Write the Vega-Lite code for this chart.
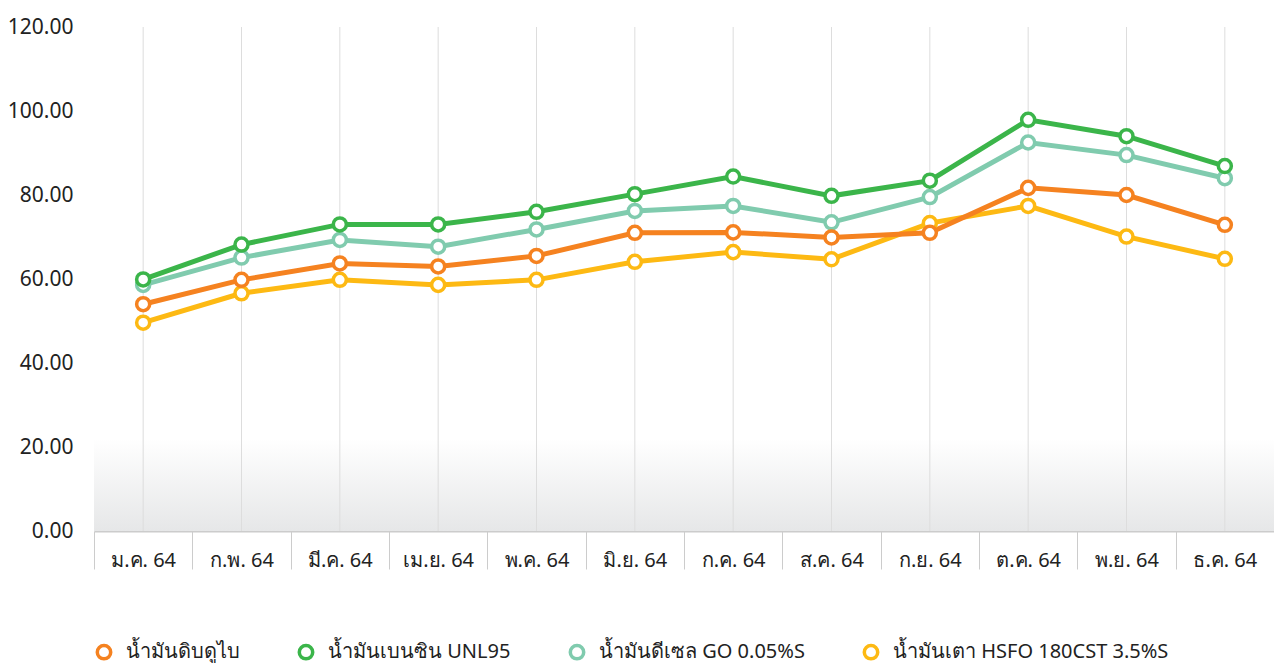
{
  "$schema": "https://vega.github.io/schema/vega-lite/v6.json",
  "width": 1180,
  "height": 504,
  "autosize": "none",
  "padding": {"left": 94, "top": 27, "right": 0, "bottom": 132},
  "background": "white",
  "config": {"view": {"stroke": null}, "font": "Noto Sans"},
  "datasets": {
    "prices": [
      {"m": "ม.ค. 64", "s": "น้ำมันเตา HSFO 180CST 3.5%S", "v": 49.6},
      {"m": "ก.พ. 64", "s": "น้ำมันเตา HSFO 180CST 3.5%S", "v": 56.6},
      {"m": "มี.ค. 64", "s": "น้ำมันเตา HSFO 180CST 3.5%S", "v": 59.8},
      {"m": "เม.ย. 64", "s": "น้ำมันเตา HSFO 180CST 3.5%S", "v": 58.6},
      {"m": "พ.ค. 64", "s": "น้ำมันเตา HSFO 180CST 3.5%S", "v": 59.8},
      {"m": "มิ.ย. 64", "s": "น้ำมันเตา HSFO 180CST 3.5%S", "v": 64.1},
      {"m": "ก.ค. 64", "s": "น้ำมันเตา HSFO 180CST 3.5%S", "v": 66.4},
      {"m": "ส.ค. 64", "s": "น้ำมันเตา HSFO 180CST 3.5%S", "v": 64.7},
      {"m": "ก.ย. 64", "s": "น้ำมันเตา HSFO 180CST 3.5%S", "v": 73.3},
      {"m": "ต.ค. 64", "s": "น้ำมันเตา HSFO 180CST 3.5%S", "v": 77.4},
      {"m": "พ.ย. 64", "s": "น้ำมันเตา HSFO 180CST 3.5%S", "v": 70.1},
      {"m": "ธ.ค. 64", "s": "น้ำมันเตา HSFO 180CST 3.5%S", "v": 64.8},
      {"m": "ม.ค. 64", "s": "น้ำมันดีเซล GO 0.05%S", "v": 58.6},
      {"m": "ก.พ. 64", "s": "น้ำมันดีเซล GO 0.05%S", "v": 65.1},
      {"m": "มี.ค. 64", "s": "น้ำมันดีเซล GO 0.05%S", "v": 69.3},
      {"m": "เม.ย. 64", "s": "น้ำมันดีเซล GO 0.05%S", "v": 67.7},
      {"m": "พ.ค. 64", "s": "น้ำมันดีเซล GO 0.05%S", "v": 71.8},
      {"m": "มิ.ย. 64", "s": "น้ำมันดีเซล GO 0.05%S", "v": 76.2},
      {"m": "ก.ค. 64", "s": "น้ำมันดีเซล GO 0.05%S", "v": 77.4},
      {"m": "ส.ค. 64", "s": "น้ำมันดีเซล GO 0.05%S", "v": 73.5},
      {"m": "ก.ย. 64", "s": "น้ำมันดีเซล GO 0.05%S", "v": 79.5},
      {"m": "ต.ค. 64", "s": "น้ำมันดีเซล GO 0.05%S", "v": 92.5},
      {"m": "พ.ย. 64", "s": "น้ำมันดีเซล GO 0.05%S", "v": 89.5},
      {"m": "ธ.ค. 64", "s": "น้ำมันดีเซล GO 0.05%S", "v": 84.0},
      {"m": "ม.ค. 64", "s": "น้ำมันเบนซิน UNL95", "v": 59.9},
      {"m": "ก.พ. 64", "s": "น้ำมันเบนซิน UNL95", "v": 68.2},
      {"m": "มี.ค. 64", "s": "น้ำมันเบนซิน UNL95", "v": 73.0},
      {"m": "เม.ย. 64", "s": "น้ำมันเบนซิน UNL95", "v": 73.0},
      {"m": "พ.ค. 64", "s": "น้ำมันเบนซิน UNL95", "v": 76.0},
      {"m": "มิ.ย. 64", "s": "น้ำมันเบนซิน UNL95", "v": 80.2},
      {"m": "ก.ค. 64", "s": "น้ำมันเบนซิน UNL95", "v": 84.4},
      {"m": "ส.ค. 64", "s": "น้ำมันเบนซิน UNL95", "v": 79.8},
      {"m": "ก.ย. 64", "s": "น้ำมันเบนซิน UNL95", "v": 83.4},
      {"m": "ต.ค. 64", "s": "น้ำมันเบนซิน UNL95", "v": 97.9},
      {"m": "พ.ย. 64", "s": "น้ำมันเบนซิน UNL95", "v": 94.0},
      {"m": "ธ.ค. 64", "s": "น้ำมันเบนซิน UNL95", "v": 86.9},
      {"m": "ม.ค. 64", "s": "น้ำมันดิบดูไบ", "v": 54.0},
      {"m": "ก.พ. 64", "s": "น้ำมันดิบดูไบ", "v": 59.8},
      {"m": "มี.ค. 64", "s": "น้ำมันดิบดูไบ", "v": 63.7},
      {"m": "เม.ย. 64", "s": "น้ำมันดิบดูไบ", "v": 63.0},
      {"m": "พ.ค. 64", "s": "น้ำมันดิบดูไบ", "v": 65.5},
      {"m": "มิ.ย. 64", "s": "น้ำมันดิบดูไบ", "v": 71.0},
      {"m": "ก.ค. 64", "s": "น้ำมันดิบดูไบ", "v": 71.1},
      {"m": "ส.ค. 64", "s": "น้ำมันดิบดูไบ", "v": 69.9},
      {"m": "ก.ย. 64", "s": "น้ำมันดิบดูไบ", "v": 71.0},
      {"m": "ต.ค. 64", "s": "น้ำมันดิบดูไบ", "v": 81.7},
      {"m": "พ.ย. 64", "s": "น้ำมันดิบดูไบ", "v": 80.0},
      {"m": "ธ.ค. 64", "s": "น้ำมันดิบดูไบ", "v": 72.9}
    ]
  },
  "data": {"name": "prices"},
  "layer": [
    {
      "data": {"values": [{}]},
      "mark": {"type": "rect", "color": {"gradient": "linear", "x1": 0, "y1": 0, "x2": 0, "y2": 1,
        "stops": [{"offset": 0, "color": "#ffffff"}, {"offset": 1, "color": "#e6e7e8"}]}},
      "encoding": {
        "y": {"datum": 22, "type": "quantitative", "scale": {"domain": [0, 120], "nice": false}},
        "y2": {"datum": 0}
      }
    },
    {
      "transform": [{"filter": "datum.s === 'น้ำมันดิบดูไบ'"}],
      "mark": {"type": "rule", "color": "#dddddd", "strokeWidth": 1},
      "encoding": {
        "x": {
          "field": "m", "type": "nominal", "sort": null,
          "scale": {"type": "band", "paddingInner": 0, "paddingOuter": 0},
          "axis": {
            "title": null, "tickBand": "extent", "tickSize": 38, "tickColor": "#cccccc", "tickWidth": 1,
            "domainColor": "#cccccc", "domainWidth": 2, "labelFontSize": 20, "labelColor": "#222222",
            "labelPadding": -19, "grid": false, "labelAngle": 0
          }
        }
      }
    },
    {
      "mark": {"type": "line", "strokeWidth": 5},
      "encoding": {
        "x": {
          "field": "m", "type": "nominal", "sort": null,
          "scale": {"type": "band", "paddingInner": 0, "paddingOuter": 0}
        },
        "y": {"field": "v", "type": "quantitative"},
        "color": {
          "field": "s", "type": "nominal",
          "scale": {
            "domain": ["น้ำมันดิบดูไบ", "น้ำมันเบนซิน UNL95", "น้ำมันดีเซล GO 0.05%S", "น้ำมันเตา HSFO 180CST 3.5%S"],
            "range": ["#f58220", "#3bb54a", "#80cbae", "#fdb913"]
          },
          "legend": {
            "title": null, "orient": "bottom", "direction": "horizontal", "offset": 72,
            "symbolType": "circle", "symbolSize": 180, "symbolStrokeWidth": 3.5, "symbolFillColor": "white",
            "labelFontSize": 20, "labelColor": "#222222", "labelOffset": 12, "columnPadding": 52, "labelLimit": 500
          }
        }
      }
    },
    {
      "mark": {"type": "point", "filled": false, "fill": "white", "size": 170, "strokeWidth": 3.5, "opacity": 1},
      "encoding": {
        "x": {
          "field": "m", "type": "nominal", "sort": null,
          "scale": {"type": "band", "paddingInner": 0, "paddingOuter": 0}
        },
        "y": {
          "field": "v", "type": "quantitative",
          "axis": {
            "title": null, "domain": false, "ticks": false, "tickSize": 0, "grid": false, "format": ".2f",
            "values": [0, 20, 40, 60, 80, 100, 120], "labelFontSize": 21, "labelPadding": 21, "labelColor": "#222222"
          }
        },
        "color": {"field": "s", "type": "nominal"}
      }
    }
  ]
}
